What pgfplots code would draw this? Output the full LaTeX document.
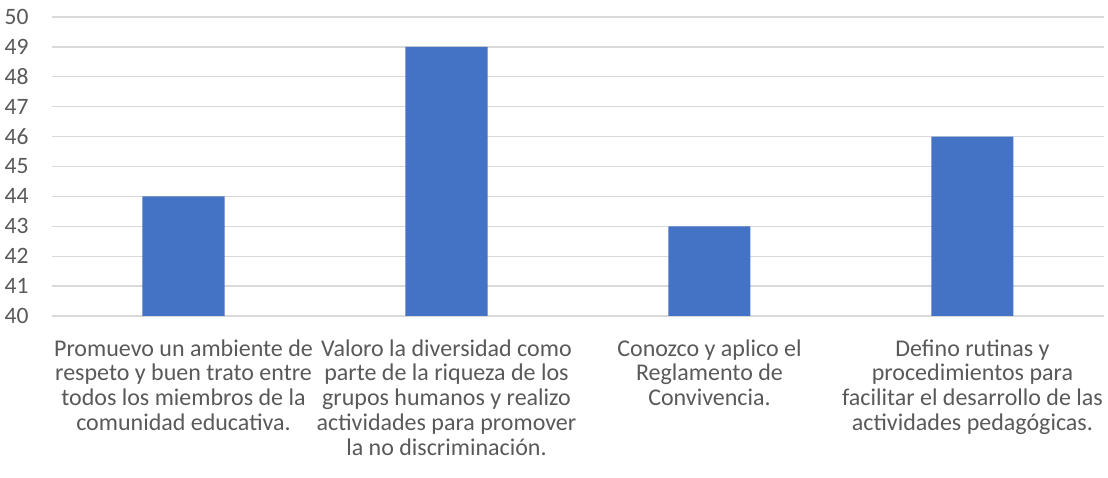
\documentclass[border=0pt]{standalone}
\usepackage{pgfplots}
\pgfplotsset{compat=1.18}
\usepackage{fontspec}
\setmainfont{Carlito}
\definecolor{barblue}{HTML}{4472C4}
\definecolor{gridgray}{HTML}{D9D9D9}
\definecolor{txtgray}{HTML}{595959}
\begin{document}
\begin{tikzpicture}[x=1pt,y=1pt]
\path[use as bounding box] (0,0) rectangle (1108,478);
\begin{axis}[
  at={(52pt,162pt)}, anchor=south west,
  scale only axis, width=1052pt, height=299pt,
  ymin=40, ymax=50, ytick={40,41,...,50},
  xmin=-0.5, xmax=3.5, xtick={0,1,2,3},
  xticklabels={{Promuevo un ambiente de\\respeto y buen trato entre\\todos los miembros de la\\comunidad educativa.},
    {Valoro la diversidad como\\parte de la riqueza de los\\grupos humanos y realizo\\actividades para promover\\la no discriminación.},
    {Conozco y aplico el\\Reglamento de\\Convivencia.},
    {Defino rutinas y\\procedimientos para\\facilitar el desarrollo de las\\actividades pedagógicas.}},
  x tick label style={align=center, font=\fontsize{24}{24.8}\selectfont, text=txtgray, anchor=north, yshift=-20pt},
  y tick label style={font=\fontsize{23.5}{23}\selectfont, text=txtgray},
  /pgf/number format/assume math mode=true,
  axis line style={draw=none},
  major tick length=0pt,
  ymajorgrids, grid style={gridgray, line width=1.3pt},
  yticklabel style={xshift=-20pt},
]
\addplot[ybar, bar width=0.312, fill=barblue, draw=none, bar shift=0pt] coordinates {(0,44) (1,49) (2,43) (3,46)};
\end{axis}
\end{tikzpicture}
\end{document}
